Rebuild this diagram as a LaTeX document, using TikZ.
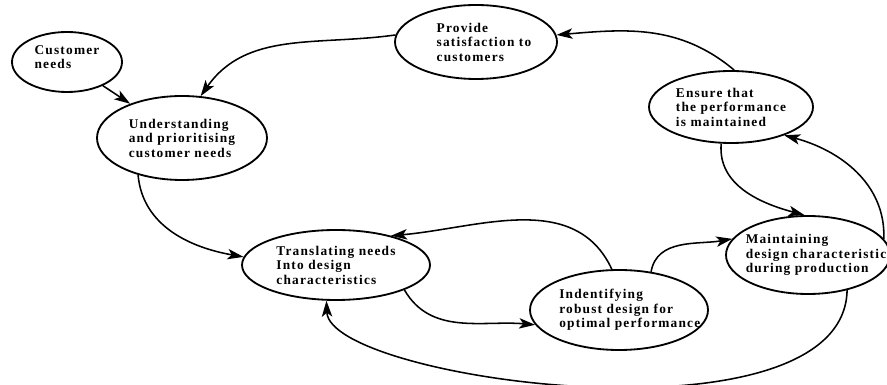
\documentclass[tikz,border=0pt]{standalone}
\usepackage{fontspec}
\setmainfont{Liberation Serif}[LetterSpace=9]
\usetikzlibrary{shapes.geometric}
\usetikzlibrary{arrows.meta}
\tikzset{
    stage/.style 2 args={shape=ellipse, draw=black, line width=1.3pt,
        minimum width=#1, minimum height=#2, inner sep=0pt},
    stage text/.style={align=left, font=\fontsize{9.5}{10.3}\selectfont\bfseries},
    flow/.style={line width=1.1pt, -{Stealth[length=4mm, width=2.6mm, inset=1mm]}}}

\begin{document}
\begin{tikzpicture}

    \useasboundingbox (0,0) rectangle (22.175,-9.625);

    \node[stage={2.75cm}{1.5cm}, label={[stage text, yshift=1.2mm]center:Customer\\needs}] (need) at (1.675,-1.55) {};
    \node[stage={4.25cm}{2.1cm}, label={[stage text]center:Understanding\\and prioritising\\customer needs}] (understand) at (4.55,-3.45) {};
    \node[stage={4.05cm}{1.85cm}, label={[stage text, xshift=2mm]center:Provide\\satisfaction to\\customers}] (satisfy) at (11.9,-1.05) {};
    \node[stage={4.1cm}{1.8cm}, label={[stage text]center:Ensure that\\the performance\\is maintained}] (ensure) at (18.275,-2.675) {};
    \node[stage={4.7cm}{1.75cm}, label={[stage text]center:Translating needs\\Into design\\characteristics}] (translate) at (8.4,-6.625) {};
    \node[stage={4.45cm}{2cm}, label={[stage text, xshift=2.7mm]center:Indentifying\\robust design for\\optimal performance}] (robust) at (15.475,-7.75) {};
    \node[stage={4.1cm}{1.95cm}, label={[stage text, xshift=2mm]center:Maintaining\\design characteristic\\during production}] (maintain) at (20.2,-6.375) {};

    \draw[flow] (need) -- (understand);
    \draw[flow] (satisfy.175) to[out=188, in=55] (understand.66);
    \draw[flow] (ensure.85) to[out=140, in=5] (satisfy.5);
    \draw[flow] (understand.220) to[out=-85, in=170] (translate.175);
    \draw[flow] (translate.-20) to[out=-60, in=175] (robust.190);
    \draw[flow] (robust.100) to[out=115, in=5] (translate.28);
    \draw[flow] (robust.50) to[out=80, in=190] (maintain.168);
    \draw[flow] (ensure.255) to[out=-95, in=165] (maintain.95);
    \draw[flow] (maintain.12) to[out=88, in=-15] (ensure.-28);
    \draw[flow] (maintain.-42) .. controls +(-0.075,-4) and +(0.075,-2) .. (translate.255);

\end{tikzpicture}
\end{document}
